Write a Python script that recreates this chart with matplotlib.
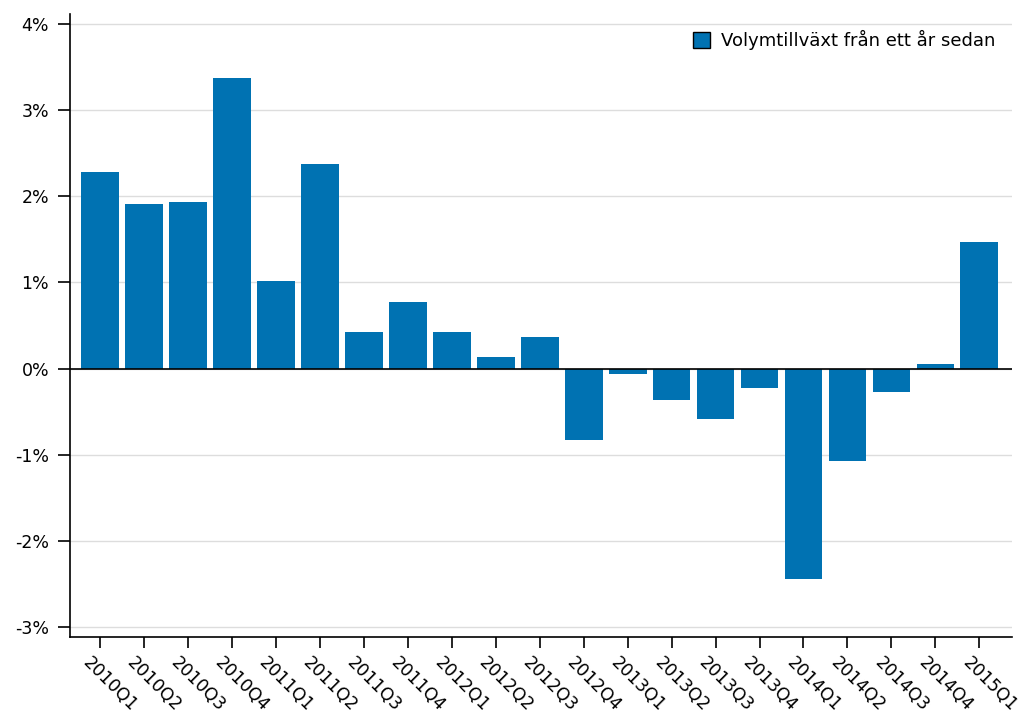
import matplotlib
matplotlib.use("Agg")
import matplotlib.pyplot as plt
import matplotlib.transforms as mtransforms
from matplotlib.ticker import FuncFormatter

kvartal = ["2010Q1", "2010Q2", "2010Q3", "2010Q4",
           "2011Q1", "2011Q2", "2011Q3", "2011Q4",
           "2012Q1", "2012Q2", "2012Q3", "2012Q4",
           "2013Q1", "2013Q2", "2013Q3", "2013Q4",
           "2014Q1", "2014Q2", "2014Q3", "2014Q4",
           "2015Q1"]
tillvaxt = [2.28, 1.91, 1.93, 3.38,
            1.02, 2.38, 0.42, 0.77,
            0.42, 0.14, 0.37, -0.83,
            -0.06, -0.36, -0.59, -0.22,
            -2.44, -1.07, -0.27, 0.05,
            1.47]
y_ticks = [-3, -2, -1, 0, 1, 2, 3, 4]

fig = plt.figure(figsize=(10.29, 7.25), dpi=100)
ax = fig.add_axes([0.068, 0.121, 0.915, 0.860])

x = list(range(len(kvartal)))
ax.bar(x, tillvaxt, width=0.86, color="#0072b2", zorder=3,
       label="Volymtillväxt från ett år sedan")
ax.axhline(0, color="black", linewidth=1.2, zorder=4)

ax.set_xlim(-0.68, 20.73)
ax.set_ylim(-3.12, 4.12)
ax.set_yticks(y_ticks)
ax.yaxis.set_major_formatter(FuncFormatter(lambda v, p: f"{v:.0f}%"))
ax.grid(axis="y", color="#dddddd", linewidth=1, zorder=0)

for s in ["top", "right"]:
    ax.spines[s].set_visible(False)
for s in ["left", "bottom"]:
    ax.spines[s].set_linewidth(1.2)
ax.tick_params(axis="y", length=9, width=1.2, labelsize=12.5, pad=6)
ax.tick_params(axis="x", length=8, width=1.2, labelsize=12.5, pad=4)

ax.set_xticks(x)
ax.set_xticklabels(kvartal, rotation=-45, ha="left", va="center",
                   rotation_mode="anchor")
# flytta etiketterna lite åt vänster/ner som i originalet (efter tick_params)
offset = mtransforms.ScaledTranslation(-14 / 100, -6 / 100, fig.dpi_scale_trans)
for lab in ax.get_xticklabels():
    lab.set_transform(lab.get_transform() + offset)

leg = ax.legend(loc="upper right", frameon=False, fontsize=13,
                handlelength=0.95, handleheight=0.95, handletextpad=0.6,
                bbox_to_anchor=(1.0, 1.0), borderaxespad=0.5)
for h in leg.legend_handles:
    h.set_edgecolor("black")
    h.set_linewidth(1)

fig.savefig("out.png", dpi=100)
